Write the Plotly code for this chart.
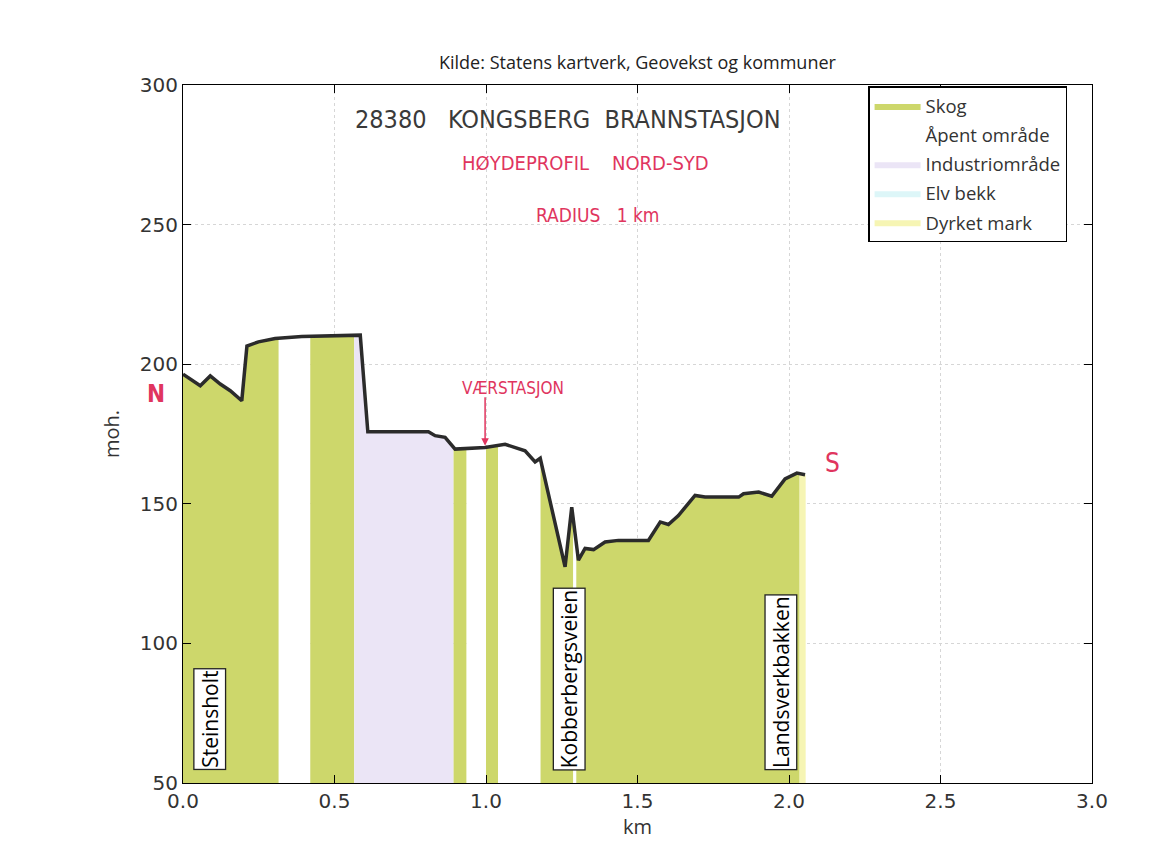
import numpy as np
import plotly.graph_objects as go

# Elevation profile (km, metres above sea level)
profile_km = [0.00, 0.057, 0.09, 0.123, 0.156, 0.194, 0.211, 0.249, 0.304, 0.392, 0.585,
              0.61, 0.81, 0.832, 0.865, 0.898, 0.997, 1.063, 1.129, 1.162, 1.179,
              1.261, 1.283, 1.305, 1.327, 1.355, 1.393, 1.437, 1.536, 1.575, 1.602,
              1.635, 1.69, 1.723, 1.834, 1.85, 1.9, 1.943, 1.987, 2.026, 2.053]
profile_moh = [196.4, 192.3, 195.8, 192.9, 190.5, 186.9, 206.5, 208.0, 209.2, 209.9, 210.4,
               175.8, 175.8, 174.4, 173.8, 169.6, 170.2, 171.3, 169.0, 165.0, 166.3,
               127.4, 148.8, 129.8, 134.0, 133.6, 136.3, 136.9, 136.9, 143.5, 142.6,
               145.8, 153.0, 152.4, 152.4, 153.6, 154.2, 152.7, 158.9, 161.0, 160.4]

# Land-cover bands along the profile
band_start = [0.00, 0.316, 0.42, 0.565, 0.893, 0.936, 1.00, 1.04, 1.18, 1.288, 1.298, 2.035]
band_end = [0.316, 0.42, 0.565, 0.893, 0.936, 1.00, 1.04, 1.18, 1.288, 1.298, 2.035, 2.055]
band_type = ["Skog", "Åpent område", "Skog", "Industriområde", "Skog", "Åpent område",
             "Skog", "Åpent område", "Skog", "Åpent område", "Skog", "Dyrket mark"]

legend_names = ["Skog", "Åpent område", "Industriområde", "Elv bekk", "Dyrket mark"]
legend_colors = ["#cdd76b", "#ffffff", "#ebe5f6", "#ddf6f8", "#f6f5b4"]

# Place labels
place_names = ["Steinsholt", "Kobberbergsveien", "Landsverkbakken"]
place_km = [0.088, 1.276, 1.973]

x_ticks = [0.0, 0.5, 1.0, 1.5, 2.0, 2.5, 3.0]
y_ticks = [50, 100, 150, 200, 250, 300]

color_of = dict(zip(legend_names, legend_colors))
pk = np.array(profile_km)
pm = np.array(profile_moh)

fig = go.Figure()
shown = set()
for s, e, t in zip(band_start, band_end, band_type):
    inner = (pk > s) & (pk < e)
    xs = np.concatenate([[s], pk[inner], [e]])
    ys = np.interp(xs, pk, pm)
    fig.add_trace(go.Scatter(
        x=xs, y=ys, mode="lines", line=dict(width=0), fill="tozeroy",
        fillcolor=color_of[t], name=t, legendgroup=t,
        showlegend=t not in shown, hoverinfo="skip"))
    shown.add(t)

for n in legend_names:
    if n not in shown:
        fig.add_trace(go.Scatter(x=[None], y=[None], mode="lines", line=dict(width=0),
                                 fill="tozeroy", fillcolor=color_of[n], name=n,
                                 legendgroup=n, showlegend=True))

rank = {n: i for i, n in enumerate(legend_names)}
for tr in fig.data:
    tr.legendrank = 100 + rank[tr.name]

fig.add_trace(go.Scatter(x=profile_km, y=profile_moh, mode="lines",
                         line=dict(color="#2b2b2b", width=3.5), showlegend=False))

for name, xk in zip(place_names, place_km):
    fig.add_annotation(x=xk, y=54.5, text=name, textangle=-90, showarrow=False,
                       xanchor="center", yanchor="bottom",
                       font=dict(family="Open Sans", size=21, color="black"),
                       bgcolor="white", bordercolor="#222", borderwidth=1.3, borderpad=1)

hand = "Liberation Sans Narrow, DejaVu Sans Condensed, sans-serif"
red = "#e0355e"
fig.add_annotation(x=0.5, y=1.0, xref="paper", yref="paper", xanchor="center",
                   yanchor="bottom", yshift=9, showarrow=False,
                   text="Kilde: Statens kartverk, Geovekst og kommuner",
                   font=dict(family="Open Sans", size=18, color="#222"))
fig.add_annotation(x=1.27, y=287.5, text="28380   KONGSBERG  BRANNSTASJON", showarrow=False,
                   font=dict(family=hand, size=25, color="#3a3a3a"))
fig.add_annotation(x=1.327, y=272.2, text="HØYDEPROFIL    NORD-SYD", showarrow=False,
                   font=dict(family=hand, size=20, color=red))
fig.add_annotation(x=1.37, y=253.5, text="RADIUS   1 km", showarrow=False,
                   font=dict(family=hand, size=19, color=red))
fig.add_annotation(x=-0.042, y=189.5, xref="paper", text="<b>N</b>", showarrow=False,
                   font=dict(family=hand, size=24, color=red))
fig.add_annotation(x=2.145, y=164.5, text="S", showarrow=False,
                   font=dict(family=hand, size=26, color=red))
fig.add_annotation(x=1.09, y=191.4, text="VÆRSTASJON", showarrow=False,
                   font=dict(family=hand, size=17, color=red))
fig.add_annotation(x=0.997, y=170.8, ax=0, ay=-50, text="", showarrow=True,
                   arrowhead=2, arrowsize=1, arrowwidth=1.5, arrowcolor=red)

axis_common = dict(showline=True, linecolor="black", linewidth=1.2, mirror="ticks",
                   ticks="inside", ticklen=8, tickcolor="black",
                   showgrid=True, gridcolor="#d6d6d6", griddash="dot", gridwidth=1,
                   zeroline=False, layer="above traces",
                   tickfont=dict(family="DejaVu Sans", size=20, color="#333"))

fig.update_xaxes(range=[0, 3], tickvals=x_ticks, ticktext=[f"{v:.1f}" for v in x_ticks],
                 title=dict(text="km", font=dict(family="Open Sans", size=20, color="#333"),
                            standoff=2), **axis_common)
fig.update_yaxes(range=[50, 300], tickvals=y_ticks,
                 title=dict(text="moh.", font=dict(family="Open Sans", size=20, color="#333"),
                            standoff=14), **axis_common)

fig.update_layout(
    width=1144, height=837,
    margin=dict(l=175, r=60, t=77, b=62),
    paper_bgcolor="white", plot_bgcolor="white",
    legend=dict(x=0.754, y=0.998, xanchor="left", yanchor="top",
                bgcolor="white", bordercolor="black", borderwidth=1.2,
                font=dict(family="Open Sans", size=18.5, color="#333"),
                tracegroupgap=2, itemwidth=46),
    showlegend=True,
)

fig.write_html("out.html")
